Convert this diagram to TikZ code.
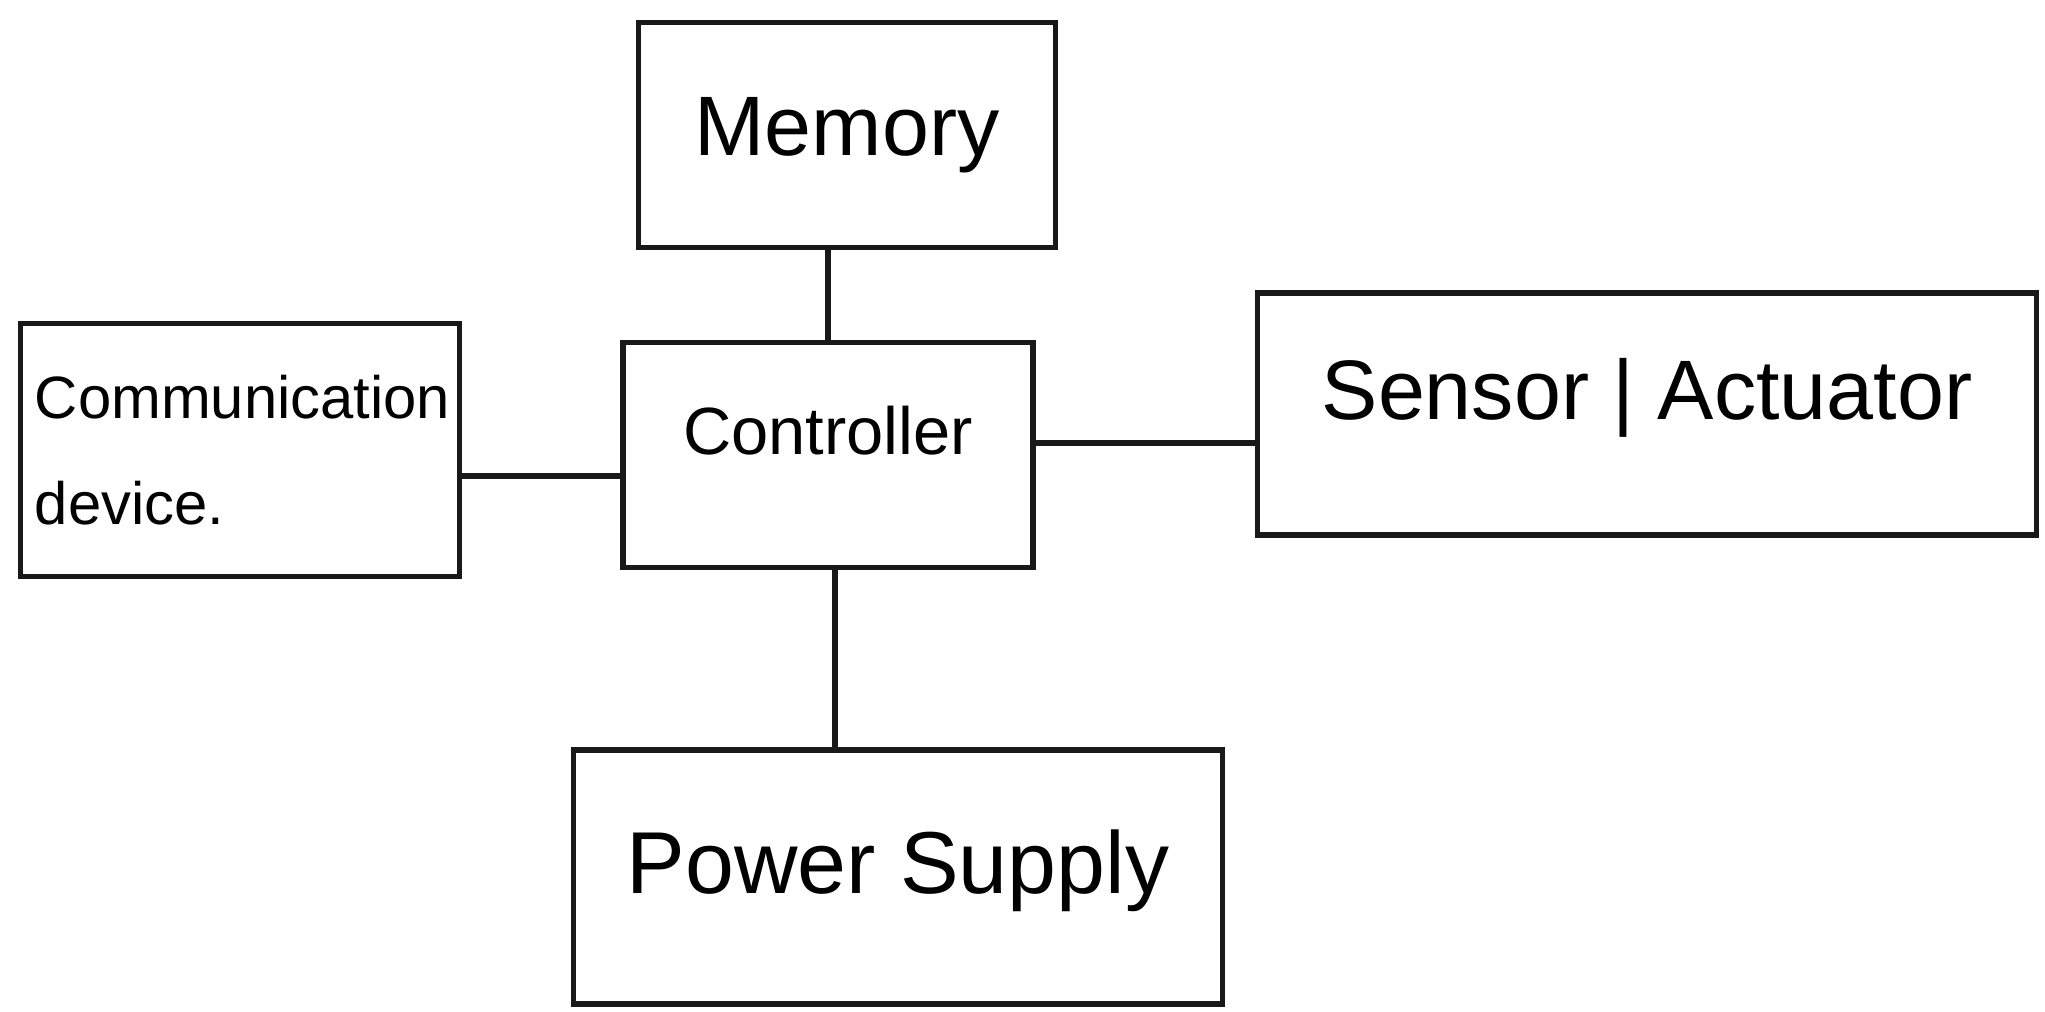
\documentclass[tikz,border=0pt]{standalone}
\usepackage{fontspec}
\setmainfont{Liberation Sans}
\usetikzlibrary{calc}
\begin{document}
\begin{tikzpicture}[x=0.01cm,y=-0.01cm,
  blockbox/.style={draw=black!90, line width=1.5pt, rectangle, align=center, inner sep=0pt},
  link/.style={draw=black!90, line width=1.5pt}]
  \useasboundingbox (0,0) rectangle (2045,1011);

  % blocks
  \node[blockbox, minimum width=4.17cm, minimum height=2.25cm, font=\fontsize{24}{28}\selectfont] (mem) at (847,135) {Memory};
  \node[blockbox, minimum width=4.39cm, minimum height=2.53cm, text width=4.1cm, font=\fontsize{17}{30}\selectfont, align=left] (comm) at (240,450) {Communication\\device.};
  \node[blockbox, minimum width=4.10cm, minimum height=2.25cm, font=\fontsize{19}{24}\selectfont] (ctrl) at (828,455) {\raisebox{0.5cm}{Controller}};
  \node[blockbox, minimum width=7.79cm, minimum height=2.42cm, font=\fontsize{24}{28}\selectfont] (sens) at (1647,414) {\raisebox{0.5cm}{Sensor | Actuator}};
  \node[blockbox, minimum width=6.48cm, minimum height=2.54cm, font=\fontsize{25}{30}\selectfont] (pwr) at (898,877) {\raisebox{0.3cm}{Power Supply}};

  % attachment points of the links
  \coordinate (cl) at ($(comm.east)+(0,26)$);
  \coordinate (cr) at ($(ctrl.east)+(0,-12)$);
  \coordinate (cb) at ($(ctrl.south)+(7,0)$);

  % connections to the controller
  \draw[link] (mem.south -| ctrl.north) -- (ctrl.north);
  \draw[link] (cl) -- (cl -| ctrl.west);
  \draw[link] (cr) -- (cr -| sens.west);
  \draw[link] (cb) -- (cb |- pwr.north);
\end{tikzpicture}
\end{document}
